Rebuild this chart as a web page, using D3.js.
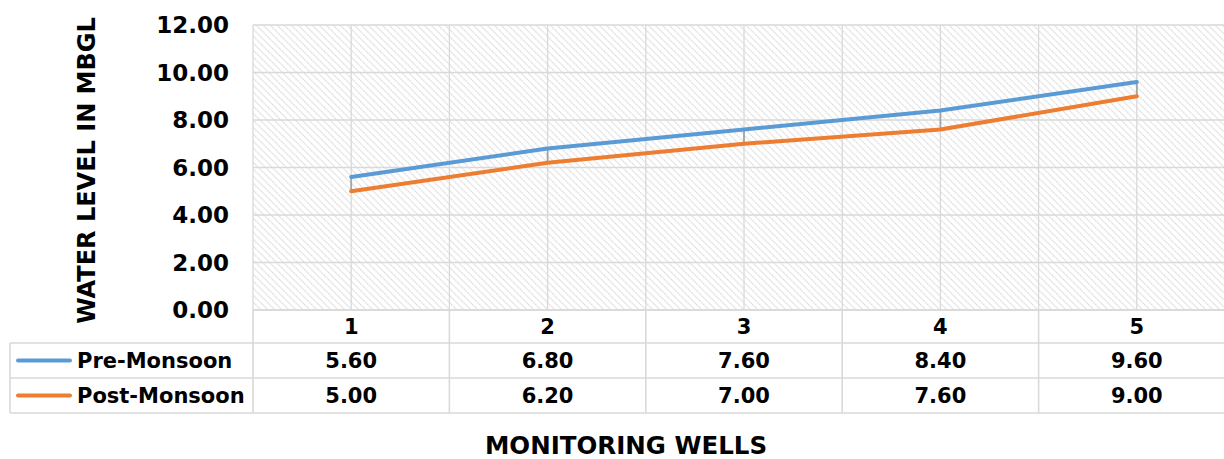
<!DOCTYPE html>
<html>
<head>
<meta charset="utf-8">
<script src="https://cdn.jsdelivr.net/npm/d3@7"></script>
<style>
  html, body { margin: 0; padding: 0; background: #fff; }
  svg { display: block; overflow: hidden; }
  text { font-family: Verdana, "DejaVu Sans", sans-serif; font-weight: bold; fill: #000; }
</style>
</head>
<body>
<svg id="chart" width="1224" height="459"></svg>
<script>
// Monitoring well water levels (metres below ground level)
const wells = ["1", "2", "3", "4", "5"];
const seriesNames = ["Pre-Monsoon", "Post-Monsoon"];
const preMonsoon = [5.60, 6.80, 7.60, 8.40, 9.60];
const postMonsoon = [5.00, 6.20, 7.00, 7.60, 9.00];
const yTicks = [0, 2, 4, 6, 8, 10, 12];
const seriesColors = ["#5B9BD5", "#ED7D31"];

const series = [
  { name: seriesNames[0], values: preMonsoon, color: seriesColors[0] },
  { name: seriesNames[1], values: postMonsoon, color: seriesColors[1] }
];

const svg = d3.select("#chart");
const gridColor = "#d9d9d9";

const plot = { left: 253, right: 1235, top: 25, bottom: 310 };
const table = { left: 10, headerBottom: 343, rowH: 35 };

const x = d3.scaleBand().domain(wells).range([plot.left, plot.right]);
const y = d3.scaleLinear().domain([0, 12]).range([plot.bottom, plot.top]);
const cx = d => x(d) + x.bandwidth() / 2;

// diagonal hatch fill for the plot area
const P = 7;
const defs = svg.append("defs");
const pat = defs.append("pattern")
  .attr("id", "hatch").attr("patternUnits", "userSpaceOnUse")
  .attr("width", P).attr("height", P);
pat.append("rect").attr("width", P).attr("height", P).attr("fill", "#fff");
pat.selectAll("line").data([[-1, -1, P + 1, P + 1], [P - 1, -1, P + 1, 1], [-1, P - 1, 1, P + 1]]).enter()
  .append("line")
  .attr("x1", d => d[0]).attr("y1", d => d[1]).attr("x2", d => d[2]).attr("y2", d => d[3])
  .attr("stroke", "#dedede").attr("stroke-width", 1.3)
  .attr("stroke-dasharray", "1.4 0.6");

svg.append("rect")
  .attr("x", plot.left).attr("y", plot.top)
  .attr("width", plot.right - plot.left).attr("height", plot.bottom - plot.top)
  .attr("fill", "url(#hatch)");

// horizontal gridlines
svg.append("g").selectAll("line").data(yTicks).enter().append("line")
  .attr("x1", plot.left).attr("x2", plot.right)
  .attr("y1", d => y(d)).attr("y2", d => y(d))
  .attr("stroke", gridColor).attr("stroke-width", 1.3);

// vertical gridlines at category boundaries and centres
const vLines = [];
wells.forEach(w => { vLines.push(x(w)); vLines.push(cx(w)); });
vLines.push(x(wells[wells.length - 1]) + x.bandwidth());
svg.append("g").selectAll("line").data(vLines).enter().append("line")
  .attr("x1", d => d).attr("x2", d => d)
  .attr("y1", plot.top).attr("y2", plot.bottom)
  .attr("stroke", gridColor).attr("stroke-width", 1.3);

// y axis tick labels
svg.append("g").selectAll("text").data(yTicks).enter().append("text")
  .attr("x", 229).attr("y", d => y(d))
  .attr("dy", "0.36em").attr("text-anchor", "end")
  .style("font-size", "23px")
  .text(d => d3.format(".2f")(d));

// y axis title
svg.append("text")
  .attr("transform", `translate(95, ${(plot.top + plot.bottom) / 2 + 3}) rotate(-90)`)
  .attr("text-anchor", "middle")
  .style("font-size", "24px")
  .text("WATER LEVEL IN MBGL");

// high-low drop lines between the two series
svg.append("g").selectAll("line").data(wells).enter().append("line")
  .attr("x1", d => cx(d)).attr("x2", d => cx(d))
  .attr("y1", (d, i) => y(preMonsoon[i])).attr("y2", (d, i) => y(postMonsoon[i]))
  .attr("stroke", "#a5a5a5").attr("stroke-width", 1.8);

// series lines
const line = d3.line().x(d => cx(d.w)).y(d => y(d.v));
series.forEach(s => {
  svg.append("path")
    .datum(wells.map((w, i) => ({ w, v: s.values[i] })))
    .attr("d", line)
    .attr("fill", "none")
    .attr("stroke", s.color)
    .attr("stroke-width", 4)
    .attr("stroke-linecap", "round")
    .attr("stroke-linejoin", "round");
});

// data table below the plot
const tg = svg.append("g");
const rowTop = i => table.headerBottom + i * table.rowH;
const tableBottom = rowTop(series.length);
const tline = (x1, y1, x2, y2) => tg.append("line")
  .attr("x1", x1).attr("y1", y1).attr("x2", x2).attr("y2", y2)
  .attr("stroke", gridColor).attr("stroke-width", 1.6);

tline(plot.left, plot.bottom, plot.right, plot.bottom);
tline(table.left, table.headerBottom, plot.right, table.headerBottom);
series.forEach((s, i) => tline(table.left, rowTop(i + 1), plot.right, rowTop(i + 1)));
tline(table.left, table.headerBottom, table.left, tableBottom);
tline(plot.left, plot.bottom, plot.left, tableBottom);
wells.forEach(w => tline(x(w) + x.bandwidth(), plot.bottom, x(w) + x.bandwidth(), tableBottom));

// header row: well numbers
tg.selectAll("text.hdr").data(wells).enter().append("text")
  .attr("class", "hdr")
  .attr("x", d => cx(d)).attr("y", (plot.bottom + table.headerBottom) / 2)
  .attr("dy", "0.36em").attr("text-anchor", "middle")
  .style("font-size", "21px")
  .text(d => d);

series.forEach((s, i) => {
  const midY = rowTop(i) + table.rowH / 2;
  tg.append("line")
    .attr("x1", 18).attr("x2", 70).attr("y1", midY).attr("y2", midY)
    .attr("stroke", s.color).attr("stroke-width", 4).attr("stroke-linecap", "round");
  tg.append("text")
    .attr("x", 77).attr("y", midY).attr("dy", "0.36em")
    .style("font-size", "21px")
    .text(s.name);
  tg.selectAll(null).data(wells).enter().append("text")
    .attr("x", d => cx(d)).attr("y", midY).attr("dy", "0.36em")
    .attr("text-anchor", "middle")
    .style("font-size", "21px")
    .text((d, j) => d3.format(".2f")(s.values[j]));
});

// category axis title
svg.append("text")
  .attr("x", 626).attr("y", 454)
  .attr("text-anchor", "middle")
  .style("font-size", "24.5px")
  .text("MONITORING WELLS");
</script>
</body>
</html>
